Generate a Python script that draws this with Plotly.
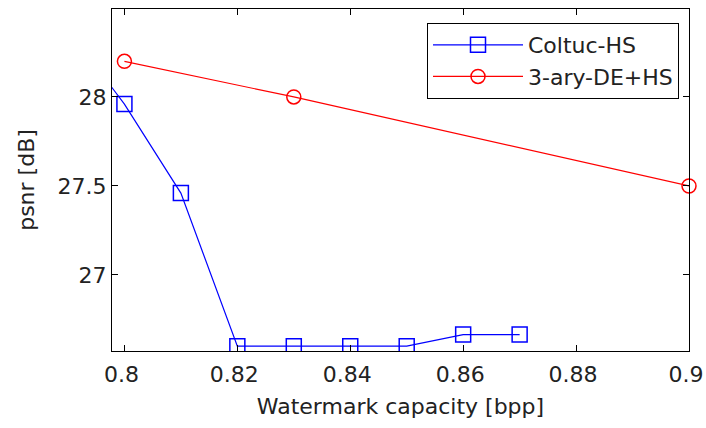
import plotly.graph_objects as go

# Data
coltuc_x = [0.79, 0.80, 0.81, 0.82, 0.83, 0.84, 0.85, 0.86, 0.87]
coltuc_y = [28.38, 27.96, 27.46, 26.60, 26.60, 26.60, 26.60, 26.665, 26.665]
ary_x = [0.80, 0.83, 0.90]
ary_y = [28.20, 28.00, 27.50]

x_ticks = [0.80, 0.82, 0.84, 0.86, 0.88, 0.90]
x_ticktext = ["0.8", "0.82", "0.84", "0.86", "0.88", "0.9"]
y_ticks = [27.0, 27.5, 28.0]
y_ticktext = ["27", "27.5", "28"]

font_family = "DejaVu Sans, Arial, sans-serif"
txt_color = "#222222"
fs = 22

fig = go.Figure()
fig.add_trace(go.Scatter(
    x=coltuc_x, y=coltuc_y, mode="lines+markers", name="Coltuc-HS",
    line=dict(color="#0000ff", width=1.2),
    marker=dict(symbol="square-open", size=15, color="#0000ff", line=dict(width=1.5, color="#0000ff")),
    cliponaxis=True,
))
fig.add_trace(go.Scatter(
    x=ary_x, y=ary_y, mode="lines+markers", name="3-ary-DE+HS",
    line=dict(color="#ff0000", width=1.2),
    marker=dict(symbol="circle-open", size=14, color="#ff0000", line=dict(width=1.5, color="#ff0000")),
    cliponaxis=False,
))

W, H = 706, 428
L, R, T, B = 112, 17, 9, 77
fig.update_layout(
    width=W, height=H,
    margin=dict(l=L, r=R, t=T, b=B, autoexpand=False),
    paper_bgcolor="white", plot_bgcolor="white",
    font=dict(family=font_family, size=fs, color=txt_color),
    showlegend=True,
    legend=dict(
        x=(679 - L) / (W - L - R), y=(H - T - B - (23 - T)) / (H - T - B),
        xanchor="right", yanchor="top",
        bordercolor="black", borderwidth=1, bgcolor="white",
        font=dict(size=fs, family=font_family, color=txt_color),
        itemwidth=90, tracegroupgap=4,
    ),
)
fig.update_xaxes(
    range=[0.7978, 0.90], tickvals=x_ticks, ticktext=x_ticktext,
    ticks="inside", ticklen=6, tickcolor="black", showline=True, linecolor="black",
    linewidth=1, mirror="ticks", showgrid=False, zeroline=False, automargin=False,
    tickfont=dict(size=fs), ticklabelstandoff=4, ticklabeloverflow="allow",
    ticklabelshift=-3,
    title=dict(text="Watermark capacity [bpp]", standoff=12, font=dict(size=fs)),
)
fig.update_yaxes(
    range=[26.573, 28.494], tickvals=y_ticks, ticktext=y_ticktext,
    ticks="inside", ticklen=6, tickcolor="black", showline=True, linecolor="black",
    linewidth=1, mirror="ticks", showgrid=False, zeroline=False, automargin=False,
    tickfont=dict(size=fs), ticklabeloverflow="allow",
    title=dict(text="psnr [dB]", standoff=16, font=dict(size=fs)),
)

# remove the default 8px page margin so the 706x428 figure fills the window
fig.write_html("out.html", config={"displayModeBar": False},
               post_script="document.body.style.margin='0px';")
